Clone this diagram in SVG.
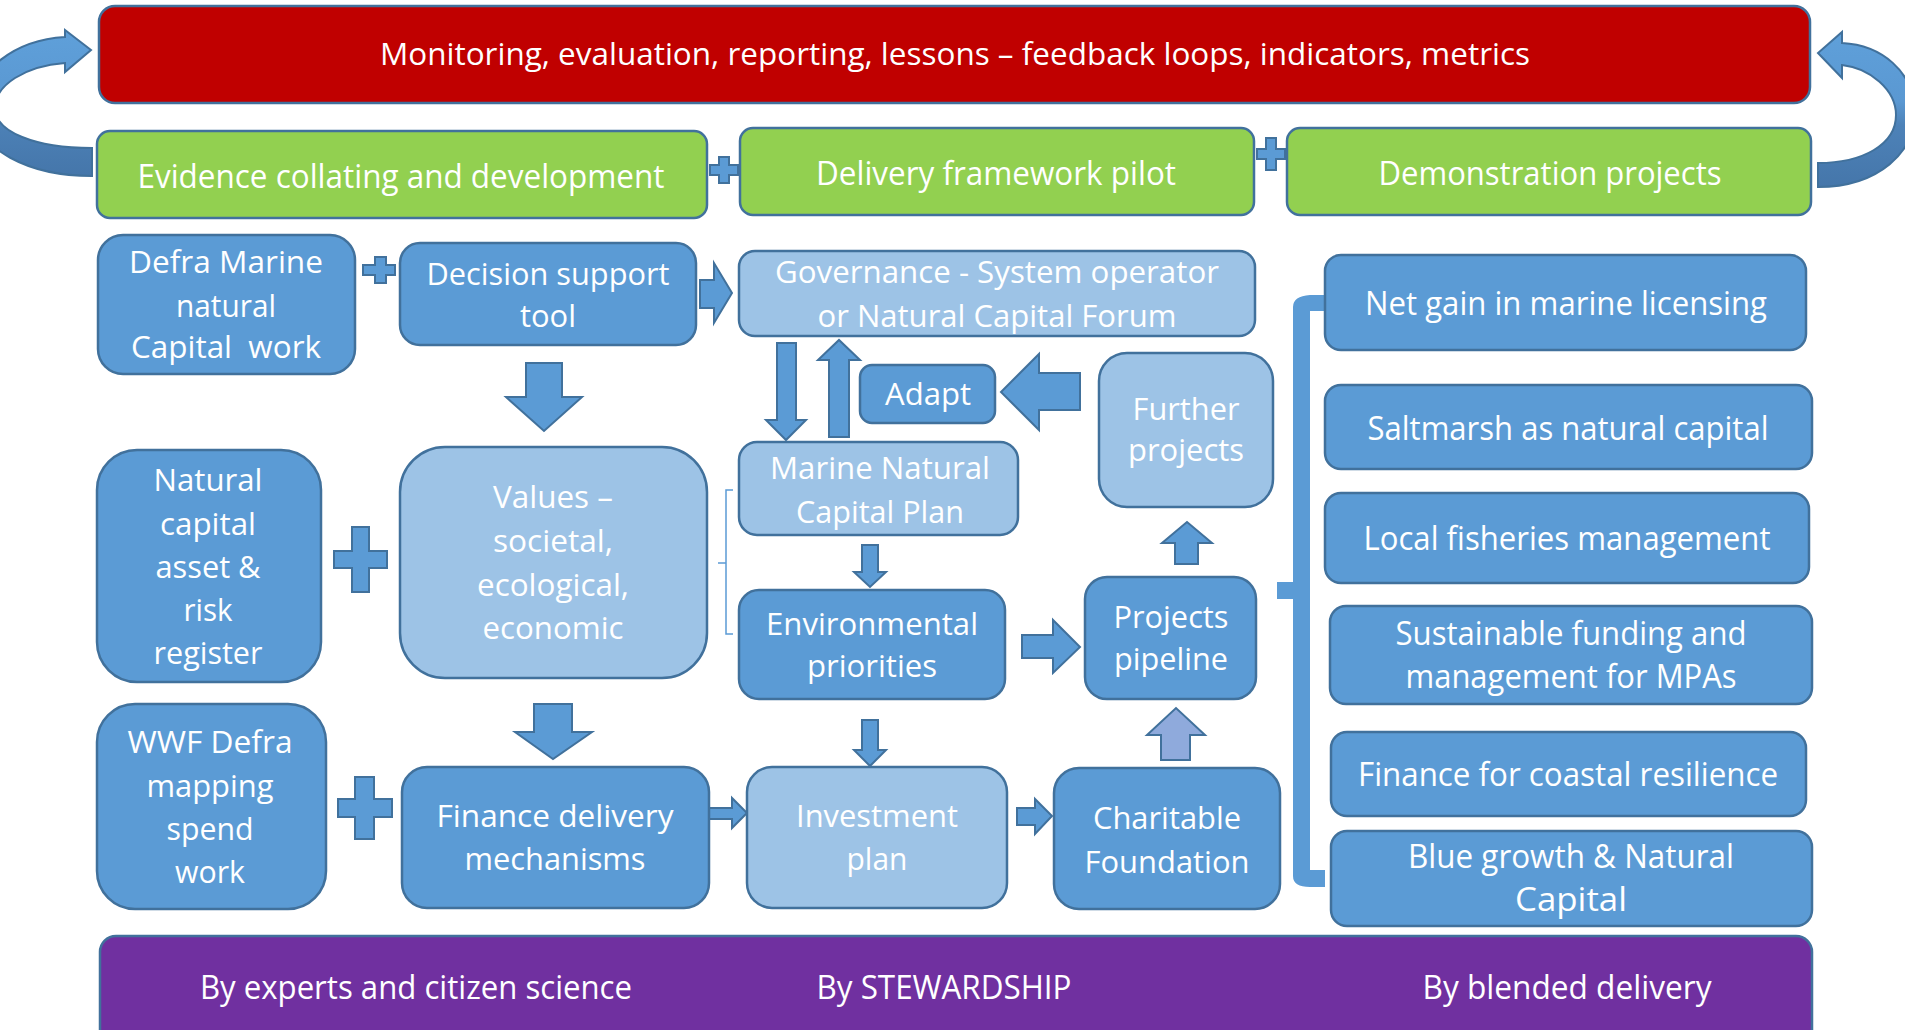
<svg xmlns="http://www.w3.org/2000/svg" width="1905" height="1030" viewBox="0 0 1905 1030">
<defs>
<linearGradient id="curl" x1="0" y1="0" x2="0" y2="1">
<stop offset="0" stop-color="#5FA0DA"/>
<stop offset="0.45" stop-color="#5A98D2"/>
<stop offset="0.6" stop-color="#4D82B8"/>
<stop offset="1" stop-color="#4576AA"/>
</linearGradient>
<style>
.box{stroke:#41719C;stroke-width:2.5}
.mid{fill:#5B9BD5}
.light{fill:#9DC3E6}
.green{fill:#92D050}
.arr{fill:#5B9BD5;stroke:#41719C;stroke-width:2}
.t{font-family:"Open Sans","Noto Sans","DejaVu Sans",sans-serif;fill:#FFFFFF;text-anchor:middle;font-size:31px}
.tg{font-size:33px}
.tr{font-size:33px}
</style>
</defs>
<rect width="1905" height="1030" fill="#FFFFFF"/>

<g id="connectors">
<path d="M92 176 C30 176 -25 150 -25 108 C-25 70 15 40 65 37 L65 30 L91 50 L65 72 L65 63 C25 66 -5 85 -5 108 C-5 132 35 148 92 148 Z" fill="url(#curl)" stroke="#41719C" stroke-width="2"/>
<path d="M1818 187 C1880 187 1915 150 1915 115 C1915 70 1880 45 1842 43 L1842 32 L1818 53 L1842 78 L1842 65 C1870 68 1896 90 1896 115 C1896 145 1862 163 1818 163 Z" fill="url(#curl)" stroke="#41719C" stroke-width="2"/>
<polygon class="arr" points="719,157 729,157 729,165 738,165 738,175 729,175 729,183 719,183 719,175 710,175 710,165 719,165"/>
<polygon class="arr" points="1266,138 1276,138 1276,149 1285,149 1285,159 1276,159 1276,170 1266,170 1266,159 1257,159 1257,149 1266,149"/>
<polygon class="arr" points="375,257 386,257 386,265 395,265 395,275 386,275 386,283 375,283 375,275 363,275 363,265 375,265"/>
<polygon class="arr" points="352,527 369,527 369,551 387,551 387,568 369,568 369,592 352,592 352,568 334,568 334,551 352,551"/>
<polygon class="arr" points="355,777 374,777 374,799 392,799 392,817 374,817 374,839 355,839 355,817 338,817 338,799 355,799"/>
<polygon class="arr" points="700,280 714,280 714,263 732,293 714,323 714,308 700,308"/>
<polygon class="arr" points="526,363 562,363 562,397 582,397 544,431 506,397 526,397"/>
<polygon class="arr" points="534,704 572,704 572,732 592,732 553,759 515,732 534,732"/>
<polygon class="arr" points="777,343 796,343 796,420 806,420 786,440 766,420 777,420"/>
<polygon class="arr" points="829,437 849,437 849,360 860,360 839,340 818,360 829,360"/>
<polygon class="arr" points="1080,373 1039,373 1039,354 1001,392 1039,430 1039,410 1080,410"/>
<polygon class="arr" points="862,545 878,545 878,572 886,572 870,587 854,572 862,572"/>
<polygon class="arr" points="862,720 878,720 878,750 886,750 870,766 854,750 862,750"/>
<polygon class="arr" points="1022,635 1053,635 1053,620 1080,647 1053,673 1053,658 1022,658"/>
<polygon class="arr" points="1175,564 1198,564 1198,543 1212,543 1187,522 1162,543 1175,543"/>
<polygon class="arr" style="fill:#8FAADC" points="1161,760 1190,760 1190,735 1205,735 1176,708 1147,735 1161,735"/>
<polygon class="arr" points="709,808 732,808 732,798 747,813 732,828 732,819 709,819"/>
<polygon class="arr" points="1017,808 1035,808 1035,799 1052,816 1035,834 1035,825 1017,825"/>
<path d="M733 490 L726 490 L726 634 L733 634 M726 563 L718 563" fill="none" stroke="#5B9BD5" stroke-width="1.5"/>
<path d="M1325 295 L1310 295 Q1293 296 1293 307 L1293 582 L1277 582 L1277 599 L1293 599 L1293 876 Q1293 887 1310 887 L1325 887 L1325 870 L1310 870 L1310 311 L1325 311 Z" fill="#5B9BD5"/>
</g>

<g id="monitoring">
<rect class="box" x="99" y="6" width="1711" height="97" rx="16" fill="#C00000"/>
<text class="t" x="955" y="65" textLength="1150" lengthAdjust="spacingAndGlyphs">Monitoring, evaluation, reporting, lessons – feedback loops, indicators, metrics</text>
</g>
<g id="evidence">
<rect class="box green" x="97" y="131" width="610" height="87" rx="13"/>
<text class="t tg" x="401" y="188" textLength="527" lengthAdjust="spacingAndGlyphs">Evidence collating and development</text>
</g>
<g id="delivery">
<rect class="box green" x="740" y="128" width="514" height="87" rx="13"/>
<text class="t tg" x="996" y="185" textLength="360" lengthAdjust="spacingAndGlyphs">Delivery framework pilot</text>
</g>
<g id="demonstration">
<rect class="box green" x="1287" y="128" width="524" height="87" rx="13"/>
<text class="t tg" x="1550" y="185" textLength="343" lengthAdjust="spacingAndGlyphs">Demonstration projects</text>
</g>

<g id="defra-marine">
<rect class="box mid" x="98" y="235" width="257" height="139" rx="25"/>
<text class="t" x="226" y="273" textLength="194" lengthAdjust="spacingAndGlyphs">Defra Marine</text>
<text class="t" x="226" y="317" textLength="100" lengthAdjust="spacingAndGlyphs">natural</text>
<text class="t" x="226" y="358" textLength="190" lengthAdjust="spacingAndGlyphs" xml:space="preserve">Capital  work</text>
</g>
<g id="decision-support">
<rect class="box mid" x="400" y="243" width="296" height="102" rx="20"/>
<text class="t" x="548" y="285" textLength="243" lengthAdjust="spacingAndGlyphs">Decision support</text>
<text class="t" x="548" y="327" textLength="56" lengthAdjust="spacingAndGlyphs">tool</text>
</g>
<g id="governance">
<rect class="box light" x="739" y="251" width="516" height="85" rx="16"/>
<text class="t" x="997" y="283" textLength="444" lengthAdjust="spacingAndGlyphs">Governance - System operator</text>
<text class="t" x="997" y="327" textLength="359" lengthAdjust="spacingAndGlyphs">or Natural Capital Forum</text>
</g>
<g id="adapt">
<rect class="box mid" x="860" y="365" width="135" height="58" rx="12"/>
<text class="t" x="928" y="405" textLength="86" lengthAdjust="spacingAndGlyphs">Adapt</text>
</g>
<g id="further-projects">
<rect class="box light" x="1099" y="353" width="174" height="154" rx="28"/>
<text class="t" x="1186" y="420" textLength="107" lengthAdjust="spacingAndGlyphs">Further</text>
<text class="t" x="1186" y="461" textLength="116" lengthAdjust="spacingAndGlyphs">projects</text>
</g>
<g id="marine-plan">
<rect class="box light" x="739" y="442" width="279" height="93" rx="18"/>
<text class="t" x="880" y="479" textLength="220" lengthAdjust="spacingAndGlyphs">Marine Natural</text>
<text class="t" x="880" y="523" textLength="168" lengthAdjust="spacingAndGlyphs">Capital Plan</text>
</g>
<g id="environmental-priorities">
<rect class="box mid" x="739" y="590" width="266" height="109" rx="20"/>
<text class="t" x="872" y="635" textLength="212" lengthAdjust="spacingAndGlyphs">Environmental</text>
<text class="t" x="872" y="677" textLength="130" lengthAdjust="spacingAndGlyphs">priorities</text>
</g>
<g id="projects-pipeline">
<rect class="box mid" x="1085" y="577" width="171" height="122" rx="22"/>
<text class="t" x="1171" y="628" textLength="115" lengthAdjust="spacingAndGlyphs">Projects</text>
<text class="t" x="1171" y="670" textLength="114" lengthAdjust="spacingAndGlyphs">pipeline</text>
</g>
<g id="natural-capital-register">
<rect class="box mid" x="97" y="450" width="224" height="232" rx="40"/>
<text class="t" x="208" y="491" textLength="109" lengthAdjust="spacingAndGlyphs">Natural</text>
<text class="t" x="208" y="535" textLength="96" lengthAdjust="spacingAndGlyphs">capital</text>
<text class="t" x="208" y="578" textLength="105" lengthAdjust="spacingAndGlyphs">asset &amp;</text>
<text class="t" x="208" y="621" textLength="49" lengthAdjust="spacingAndGlyphs">risk</text>
<text class="t" x="208" y="664" textLength="109" lengthAdjust="spacingAndGlyphs">register</text>
</g>
<g id="values">
<rect class="box light" x="400" y="447" width="307" height="231" rx="45"/>
<text class="t" x="553" y="508" textLength="120" lengthAdjust="spacingAndGlyphs">Values –</text>
<text class="t" x="553" y="552" textLength="120" lengthAdjust="spacingAndGlyphs">societal,</text>
<text class="t" x="553" y="596" textLength="152" lengthAdjust="spacingAndGlyphs">ecological,</text>
<text class="t" x="553" y="639" textLength="141" lengthAdjust="spacingAndGlyphs">economic</text>
</g>
<g id="wwf-mapping">
<rect class="box mid" x="97" y="704" width="229" height="205" rx="38"/>
<text class="t" x="210" y="753" textLength="165" lengthAdjust="spacingAndGlyphs">WWF Defra</text>
<text class="t" x="210" y="797" textLength="127" lengthAdjust="spacingAndGlyphs">mapping</text>
<text class="t" x="210" y="840" textLength="87" lengthAdjust="spacingAndGlyphs">spend</text>
<text class="t" x="210" y="883" textLength="70" lengthAdjust="spacingAndGlyphs">work</text>
</g>
<g id="finance-delivery">
<rect class="box mid" x="402" y="767" width="307" height="141" rx="25"/>
<text class="t" x="555" y="827" textLength="237" lengthAdjust="spacingAndGlyphs">Finance delivery</text>
<text class="t" x="555" y="870" textLength="181" lengthAdjust="spacingAndGlyphs">mechanisms</text>
</g>
<g id="investment-plan">
<rect class="box light" x="747" y="767" width="260" height="141" rx="25"/>
<text class="t" x="877" y="827" textLength="162" lengthAdjust="spacingAndGlyphs">Investment</text>
<text class="t" x="877" y="870" textLength="61" lengthAdjust="spacingAndGlyphs">plan</text>
</g>
<g id="charitable-foundation">
<rect class="box mid" x="1054" y="768" width="226" height="141" rx="25"/>
<text class="t" x="1167" y="829" textLength="148" lengthAdjust="spacingAndGlyphs">Charitable</text>
<text class="t" x="1167" y="873" textLength="165" lengthAdjust="spacingAndGlyphs">Foundation</text>
</g>

<g id="net-gain">
<rect class="box mid" x="1325" y="255" width="481" height="95" rx="16"/>
<text class="t tr" x="1566" y="315" textLength="402" lengthAdjust="spacingAndGlyphs">Net gain in marine licensing</text>
</g>
<g id="saltmarsh">
<rect class="box mid" x="1325" y="385" width="487" height="84" rx="16"/>
<text class="t tr" x="1568" y="440" textLength="401" lengthAdjust="spacingAndGlyphs">Saltmarsh as natural capital</text>
</g>
<g id="local-fisheries">
<rect class="box mid" x="1325" y="493" width="484" height="90" rx="16"/>
<text class="t tr" x="1567" y="550" textLength="407" lengthAdjust="spacingAndGlyphs">Local fisheries management</text>
</g>
<g id="sustainable-funding">
<rect class="box mid" x="1330" y="606" width="482" height="98" rx="16"/>
<text class="t tr" x="1571" y="645" textLength="351" lengthAdjust="spacingAndGlyphs">Sustainable funding and</text>
<text class="t tr" x="1571" y="688" textLength="331" lengthAdjust="spacingAndGlyphs">management for MPAs</text>
</g>
<g id="coastal-resilience">
<rect class="box mid" x="1331" y="732" width="475" height="84" rx="16"/>
<text class="t tr" x="1568" y="786" textLength="420" lengthAdjust="spacingAndGlyphs">Finance for coastal resilience</text>
</g>
<g id="blue-growth">
<rect class="box mid" x="1331" y="831" width="481" height="95" rx="16"/>
<text class="t tr" x="1571" y="868" textLength="326" lengthAdjust="spacingAndGlyphs">Blue growth &amp; Natural</text>
<text class="t tr" x="1571" y="911" textLength="112" lengthAdjust="spacingAndGlyphs">Capital</text>
</g>

<g id="delivery-modes">
<rect class="box" x="100" y="936" width="1712" height="115" rx="16" fill="#7030A0"/>
<text class="t tr" x="416" y="999" textLength="432" lengthAdjust="spacingAndGlyphs">By experts and citizen science</text>
<text class="t tr" x="944" y="999" textLength="255" lengthAdjust="spacingAndGlyphs">By STEWARDSHIP</text>
<text class="t tr" x="1567" y="999" textLength="289" lengthAdjust="spacingAndGlyphs">By blended delivery</text>
</g>
</svg>
